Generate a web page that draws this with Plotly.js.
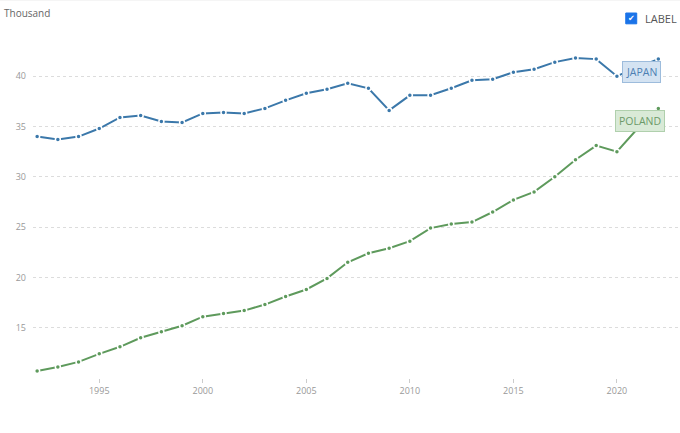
<!DOCTYPE html>
<html>
<head>
<meta charset="utf-8">
<script src="https://cdn.plot.ly/plotly-3.0.1.min.js"></script>
<style>
  html, body { margin: 0; padding: 0; background: #fff; }
  #chart { width: 680px; height: 433px; }
</style>
</head>
<body>
<div id="chart"></div>
<script>
const years = [1992,1993,1994,1995,1996,1997,1998,1999,2000,2001,2002,2003,2004,2005,2006,2007,2008,2009,2010,2011,2012,2013,2014,2015,2016,2017,2018,2019,2020,2021,2022];
const japan = [34.0,33.7,34.0,34.8,35.9,36.1,35.5,35.4,36.3,36.4,36.3,36.8,37.6,38.3,38.7,39.3,38.8,36.6,38.1,38.1,38.8,39.6,39.7,40.4,40.7,41.4,41.8,41.7,40.0,40.9,41.7];
const poland = [10.7,11.1,11.6,12.4,13.1,14.0,14.6,15.2,16.1,16.4,16.7,17.3,18.1,18.8,19.9,21.5,22.4,22.9,23.6,24.9,25.3,25.5,26.5,27.7,28.5,30.0,31.7,33.1,32.5,34.8,36.8];
const yTicks = [15,20,25,30,35,40];
const xTicks = [1995,2000,2005,2010,2015,2020];
const seriesNames = ['JAPAN','POLAND'];

const font = 'Open Sans, Noto Sans, sans-serif';

function trace(y, color, name) {
  return {
    x: years, y: y, name: name, type: 'scatter', mode: 'lines+markers',
    line: {color: color, width: 2},
    marker: {color: color, size: 5, line: {color: '#ffffff', width: 1.5}},
    hoverinfo: 'skip'
  };
}

const data = [
  trace(japan, '#3b78aa', seriesNames[0]),
  trace(poland, '#5e9a5c', seriesNames[1])
];

const layout = {
  width: 680, height: 433,
  margin: {l: 33, r: 2, t: 41, b: 55},
  paper_bgcolor: '#ffffff', plot_bgcolor: '#ffffff',
  showlegend: false,
  font: {family: font, color: '#999', size: 9},
  xaxis: {
    range: [1991.8, 2022.95],
    tickvals: xTicks, ticktext: xTicks.map(String),
    showgrid: false, zeroline: false, showline: false,
    ticks: 'outside', ticklen: 4, tickcolor: '#cccccc', tickwidth: 1,
    tickfont: {family: font, size: 9, color: '#999'}
  },
  yaxis: {
    range: [10, 43.5],
    tickvals: yTicks, ticktext: yTicks.map(String),
    showgrid: true, gridcolor: '#dcdcdc', griddash: 'dot', gridwidth: 1,
    zeroline: false, showline: false, ticks: '',
    ticklabelstandoff: 6,
    tickfont: {family: font, size: 9, color: '#999'}
  },
  shapes: [
    {type: 'line', xref: 'paper', yref: 'paper', x0: -0.06, x1: 1.01, y0: 1.122, y1: 1.122,
     line: {color: '#e6e6e6', width: 1}},
    {type: 'rect', xref: 'paper', yref: 'paper', x0: 0.919, x1: 0.936, y0: 1.051, y1: 1.083,
     fillcolor: '#1a73e8', line: {color: '#1a73e8', width: 1}}
  ],
  annotations: [
    {xref: 'paper', yref: 'paper', x: -0.048, y: 1.083, xanchor: 'left', yanchor: 'middle',
     text: 'Thousand', showarrow: false, font: {family: font, size: 10, color: '#666666'}},
    {xref: 'paper', yref: 'paper', x: 0.9275, y: 1.067, xanchor: 'center', yanchor: 'middle',
     text: '✔', showarrow: false, font: {family: 'DejaVu Sans', size: 8, color: '#ffffff'}},
    {xref: 'paper', yref: 'paper', x: 0.945, y: 1.067, xanchor: 'left', yanchor: 'middle',
     text: 'LABEL', showarrow: false, font: {family: font, size: 11, color: '#555'}},
    {x: 2021.2, y: 40.4, xref: 'x', yref: 'y', text: seriesNames[0], showarrow: false,
     bgcolor: '#d4e3f2', bordercolor: '#9dbcdc', borderwidth: 1, borderpad: 3,
     font: {family: font, size: 10.5, color: '#4d7fb3'}},
    {x: 2021.1, y: 35.5, xref: 'x', yref: 'y', text: seriesNames[1], showarrow: false,
     bgcolor: '#d9ead7', bordercolor: '#b0d0ad', borderwidth: 1, borderpad: 3,
     font: {family: font, size: 10.5, color: '#6c9a69'}}
  ]
};

Plotly.newPlot('chart', data, layout, {staticPlot: true, displayModeBar: false});
</script>
</body>
</html>
